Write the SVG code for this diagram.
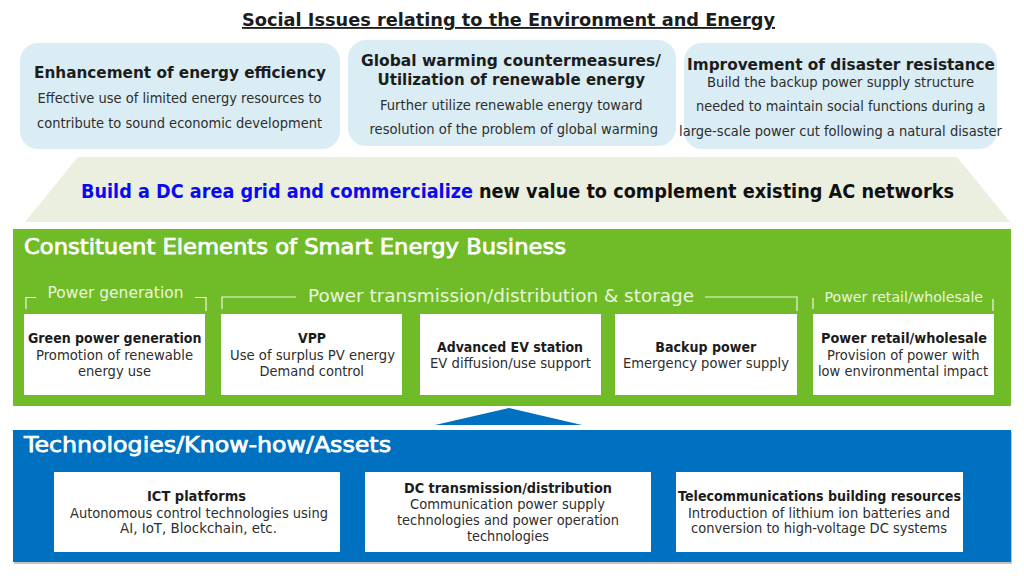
<svg xmlns="http://www.w3.org/2000/svg" width="1024" height="580" viewBox="0 0 1024 580">
<style>
text{font-family:"DejaVu Sans","Liberation Sans",sans-serif;fill:#1c1c1c}
.h{font-size:16px;font-weight:700}
.b{font-size:14px;fill:#2e2e2e}
.nh{font-size:14.5px;font-weight:700}
.nb{font-size:14px;fill:#2e2e2e}
.mid{font-size:19px;font-weight:700}
.pt{font-size:21px;font-weight:400;fill:#fff;stroke:#fff;stroke-width:.75px}
.c{fill:#daedf4}
.l{fill:#e9f5dc}
.br{fill:none;stroke:#e9f5dc;stroke-width:1.2}
</style>
<rect width="1024" height="580" fill="#fff"/>
<g id="title">
<text x="242" y="26" font-size="18.500" font-weight="700" text-decoration="underline" textLength="533" lengthAdjust="spacingAndGlyphs">Social Issues relating to the Environment and Energy</text>
</g>
<g id="issue-efficiency">
<rect class="c" x="20" y="43" width="320" height="106" rx="18"/>
<text class="h" x="34" y="78" textLength="292" lengthAdjust="spacingAndGlyphs">Enhancement of energy efficiency</text>
<text class="b" x="37.500" y="103" textLength="284" lengthAdjust="spacingAndGlyphs">Effective use of limited energy resources to</text>
<text class="b" x="37" y="128" textLength="285" lengthAdjust="spacingAndGlyphs">contribute to sound economic development</text>
</g>
<g id="issue-warming">
<rect class="c" x="348" y="40" width="328" height="106" rx="18"/>
<text class="h" x="361" y="65.500" textLength="300" lengthAdjust="spacingAndGlyphs">Global warming countermeasures/</text>
<text class="h" x="377.500" y="85" textLength="267.500" lengthAdjust="spacingAndGlyphs">Utilization of renewable energy</text>
<text class="b" x="380" y="110" textLength="262.500" lengthAdjust="spacingAndGlyphs">Further utilize renewable energy toward</text>
<text class="b" x="369.500" y="134" textLength="288.500" lengthAdjust="spacingAndGlyphs">resolution of the problem of global warming</text>
</g>
<g id="issue-disaster">
<rect class="c" x="684" y="43" width="313" height="106" rx="18"/>
<text class="h" x="687" y="70" textLength="308" lengthAdjust="spacingAndGlyphs">Improvement of disaster resistance</text>
<text class="b" x="707" y="87" textLength="267" lengthAdjust="spacingAndGlyphs">Build the backup power supply structure</text>
<text class="b" x="696" y="111" textLength="289.500" lengthAdjust="spacingAndGlyphs">needed to maintain social functions during a</text>
<text class="b" x="679" y="135.500" textLength="323" lengthAdjust="spacingAndGlyphs">large-scale power cut following a natural disaster</text>
</g>
<g id="build-banner">
<polygon points="78,157 957,157 1010,222 25,222" fill="#ebefdf"/>
<text class="mid" x="81" y="198" style="fill:#0a0aee" textLength="392" lengthAdjust="spacingAndGlyphs">Build a DC area grid and commercialize</text>
<text class="mid" x="479" y="198" style="fill:#111" textLength="475" lengthAdjust="spacingAndGlyphs">new value to complement existing AC networks</text>
</g>
<g id="panel-business">
<rect x="13" y="229" width="998" height="177" fill="#70bc28"/>
<text class="pt" x="24" y="254" textLength="542" lengthAdjust="spacingAndGlyphs">Constituent Elements of Smart Energy Business</text>
<text class="l" x="47.500" y="298" font-size="16" textLength="136" lengthAdjust="spacingAndGlyphs">Power generation</text>
<text class="l" x="308" y="302" font-size="18.500" textLength="386" lengthAdjust="spacingAndGlyphs">Power transmission/distribution &amp; storage</text>
<text class="l" x="824.500" y="302" font-size="14" textLength="158.500" lengthAdjust="spacingAndGlyphs">Power retail/wholesale</text>
</g>
<g id="connectors">
<path class="br" d="M26 309V297.500H36M195 297.500H206V311"/>
<path class="br" d="M222 309V297H296M705 297H797V311"/>
<path class="br" d="M813 309V298M993 311V299"/>
<polygon points="509,408 582,425 435,425" fill="#0070c0"/>
</g>
<g id="node-green-power">
<rect x="24" y="314" width="181" height="81" fill="#fff"/>
<text class="nh" x="28" y="343" textLength="173.500" lengthAdjust="spacingAndGlyphs">Green power generation</text>
<text class="nb" x="36" y="360" textLength="157" lengthAdjust="spacingAndGlyphs">Promotion of renewable</text>
<text class="nb" x="78" y="376" textLength="73" lengthAdjust="spacingAndGlyphs">energy use</text>
</g>
<g id="node-vpp">
<rect x="221" y="314" width="181" height="81" fill="#fff"/>
<text class="nh" x="298" y="343" textLength="28" lengthAdjust="spacingAndGlyphs">VPP</text>
<text class="nb" x="230" y="360" textLength="165" lengthAdjust="spacingAndGlyphs">Use of surplus PV energy</text>
<text class="nb" x="259.500" y="376" textLength="104.500" lengthAdjust="spacingAndGlyphs">Demand control</text>
</g>
<g id="node-ev">
<rect x="420" y="314" width="181" height="81" fill="#fff"/>
<text class="nh" x="437" y="351.700" textLength="146" lengthAdjust="spacingAndGlyphs">Advanced EV station</text>
<text class="nb" x="430" y="368" textLength="161" lengthAdjust="spacingAndGlyphs">EV diffusion/use support</text>
</g>
<g id="node-backup">
<rect x="615" y="314" width="182" height="81" fill="#fff"/>
<text class="nh" x="655.300" y="351.700" textLength="101" lengthAdjust="spacingAndGlyphs">Backup power</text>
<text class="nb" x="623" y="368" textLength="166" lengthAdjust="spacingAndGlyphs">Emergency power supply</text>
</g>
<g id="node-retail">
<rect x="813" y="314" width="181" height="81" fill="#fff"/>
<text class="nh" x="821" y="343" textLength="166" lengthAdjust="spacingAndGlyphs">Power retail/wholesale</text>
<text class="nb" x="827" y="360" textLength="152.500" lengthAdjust="spacingAndGlyphs">Provision of power with</text>
<text class="nb" x="818" y="376" textLength="170" lengthAdjust="spacingAndGlyphs">low environmental impact</text>
</g>
<g id="panel-technologies">
<rect x="14" y="432" width="998" height="132" fill="#c4c4c4"/>
<rect x="13" y="430" width="998" height="132" fill="#0070c0"/>
<text class="pt" x="24" y="452" textLength="367" lengthAdjust="spacingAndGlyphs">Technologies/Know-how/Assets</text>
</g>
<g id="node-ict">
<rect x="54" y="472" width="286" height="80" fill="#fff"/>
<text class="nh" x="147" y="501" textLength="99" lengthAdjust="spacingAndGlyphs">ICT platforms</text>
<text class="nb" x="70" y="517.500" textLength="258" lengthAdjust="spacingAndGlyphs">Autonomous control technologies using</text>
<text class="nb" x="120" y="533" textLength="157" lengthAdjust="spacingAndGlyphs">AI, IoT, Blockchain, etc.</text>
</g>
<g id="node-dc">
<rect x="365" y="472" width="286" height="80" fill="#fff"/>
<text class="nh" x="404" y="493" textLength="208" lengthAdjust="spacingAndGlyphs">DC transmission/distribution</text>
<text class="nb" x="410" y="509" textLength="195" lengthAdjust="spacingAndGlyphs">Communication power supply</text>
<text class="nb" x="397" y="525" textLength="222" lengthAdjust="spacingAndGlyphs">technologies and power operation</text>
<text class="nb" x="467" y="541" textLength="82" lengthAdjust="spacingAndGlyphs">technologies</text>
</g>
<g id="node-telecom">
<rect x="676" y="472" width="287" height="80" fill="#fff"/>
<text class="nh" x="678" y="501" textLength="283" lengthAdjust="spacingAndGlyphs">Telecommunications building resources</text>
<text class="nb" x="688" y="517.500" textLength="262" lengthAdjust="spacingAndGlyphs">Introduction of lithium ion batteries and</text>
<text class="nb" x="691" y="533" textLength="256" lengthAdjust="spacingAndGlyphs">conversion to high-voltage DC systems</text>
</g>
</svg>
